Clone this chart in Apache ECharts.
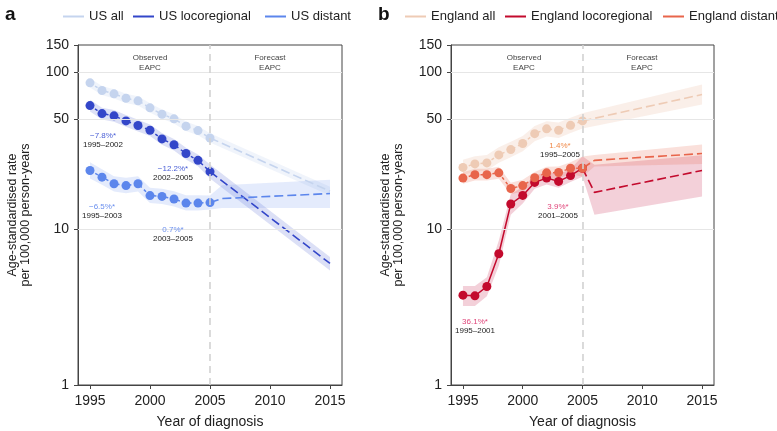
<!DOCTYPE html>
<html><head><meta charset="utf-8">
<script src="https://cdn.jsdelivr.net/npm/echarts@6/dist/echarts.min.js"></script>
<style>html,body{margin:0;padding:0;background:#fff}#c{width:777px;height:431px}</style>
</head><body><div id="c"></div>
<script>
// ---------- data ----------
const years = [1995,1996,1997,1998,1999,2000,2001,2002,2003,2004,2005];
const xTicks = [1995,2000,2005,2010,2015];
const yTicks = [1,10,50,100,150];

// US
const usAll = [85.9,76.7,73.0,68.4,65.9,59.4,54.1,50.5,45.3,42.5,38.1];
const usAllFcYears = [2005,2015];
const usAllFc = [38.1,17.4];
const usAllBandYears = [1995,1996,1997,1998,1999,2000,2001,2002,2003,2004,2005,2015];
const usAllLo = [80.3,71.7,68.2,63.9,61.6,55.5,50.6,47.2,42.3,39.7,35.6,16.3];
const usAllHi = [91.9,82.1,78.1,73.2,70.5,63.6,57.9,54.0,48.5,45.5,40.8,18.6];

const usLoc = [61.4,54.6,52.8,49.0,45.8,42.7,37.6,34.5,30.3,27.4,23.2];
const usLocFcYears = [2005,2015];
const usLocFc = [23.2,6.0];
const usLocBandYears = [1995,1996,1997,1998,1999,2000,2001,2002,2003,2004,2005,2015];
const usLocLo = [56.3,50.1,48.4,45.0,42.0,39.2,34.5,31.7,27.8,25.1,21.0,5.4];
const usLocHi = [66.9,59.5,57.6,53.4,49.9,46.5,41.0,37.6,33.0,29.9,25.8,6.6];

const usDist = [23.6,21.4,19.4,18.9,19.4,16.3,16.1,15.5,14.6,14.6,14.7];
const usDistFcYears = [2005,2006,2015];
const usDistFc = [14.7,15.6,16.8];
const usDistBandYears = [1995,1996,1997,1998,1999,2000,2001,2002,2003,2004,2005,2006,2015];
const usDistLo = [21.0,19.1,17.3,16.9,17.3,14.6,14.4,13.9,13.1,13.1,13.3,13.6,13.6];
const usDistHi = [26.6,24.0,21.7,21.2,21.7,18.3,18.0,17.4,16.4,16.4,16.3,19.0,20.6];

// England
const enAll = [24.7,26.0,26.4,29.7,32.1,35.1,40.6,43.6,42.7,45.9,49.0];
const enAllFcYears = [2005,2015];
const enAllFc = [49.0,72.3];
const enAllBandYears = [1995,1996,1997,1998,1999,2000,2001,2002,2003,2004,2005,2015];
const enAllLo = [22.1,23.2,23.6,26.5,28.7,31.3,36.3,38.9,38.1,41.0,43.8,62.3];
const enAllHi = [27.6,29.1,29.6,33.3,36.0,39.3,45.5,48.8,47.8,51.4,54.9,83.8];

const enLoc = [3.76,3.72,4.27,6.92,14.4,16.35,19.8,21.1,20.1,21.9,24.4];
const enLocFcYears = [2005,2006,2015];
const enLocFc = [24.4,17.1,23.6];
const enLocBandYears = [1995,1996,1997,1998,1999,2000,2001,2002,2003,2004,2005,2006,2015];
const enLocLo = [3.2,3.2,3.7,5.8,12.3,14.5,18.0,19.2,18.3,19.9,21.5,12.3,16.1];
const enLocHi = [4.3,4.3,4.9,8.4,16.6,18.6,21.8,23.2,22.3,24.1,29.1,25.7,29.5];

const enDist = [21.1,22.2,22.2,22.8,18.1,18.9,21.2,22.8,22.9,24.4,24.4];
const enDistFcYears = [2005,2006,2015];
const enDistFc = [24.4,27.4,30.3];
const enDistBandYears = [1995,1996,1997,1998,1999,2000,2001,2002,2003,2004,2005,2006,2015];
const enDistLo = [19.4,20.4,20.4,20.9,16.6,17.3,19.4,20.9,21.0,22.4,21.5,25.0,26.0];
const enDistHi = [23.0,24.2,24.2,24.9,19.7,20.6,23.1,24.9,25.0,26.6,29.0,29.7,34.6];

// ---------- styling ----------
const FONT = '"Liberation Sans", Arial, sans-serif';
const C = {
  usAll:'#c5d4ee', usLoc:'#3346c9', usDist:'#5c86ec',
  enAll:'#eecbb5', enLoc:'#c30a2d', enDist:'#e8654b'
};
const BAND = {
  usAll:'rgba(197,212,238,0.25)', usLoc:'rgba(80,100,210,0.20)', usDist:'rgba(92,134,236,0.17)',
  enAll:'rgba(238,203,181,0.30)', enLoc:'rgba(200,40,80,0.22)', enDist:'rgba(232,101,75,0.20)'
};

const zip = (xs, ys) => xs.map((x,i)=>[x, ys[i]]);

function band(name, idx, xs, lo, hi, color) {
  const data = xs.map((x,i)=>[x, lo[i], hi[i]]);
  return {
    type:'custom', name:name, xAxisIndex:idx, yAxisIndex:idx, z:2, silent:true, clip:true,
    data:data, encode:{x:0, y:[1,2]},
    renderItem:function(params, api){
      if (params.dataIndex !== 0) return null;
      const up = data.map(d=>api.coord([d[0], d[2]]));
      const dn = data.slice().reverse().map(d=>api.coord([d[0], d[1]]));
      return {type:'polygon', shape:{points: up.concat(dn)}, style:{fill:color}};
    }
  };
}
function obs(name, idx, ys, color, dashed) {
  return {
    type:'line', name:name, xAxisIndex:idx, yAxisIndex:idx, z:4,
    data: zip(years, ys), symbol:'circle', symbolSize:9,
    itemStyle:{color:color}, lineStyle:{color:color, width:1.5, type: dashed ? [3,3] : 'solid'},
    emphasis:{disabled:true}
  };
}
function fc(name, idx, xs, ys, color) {
  return {
    type:'line', name:name, xAxisIndex:idx, yAxisIndex:idx, z:3,
    data: zip(xs, ys), symbol:'none',
    lineStyle:{color:color, width:1.6, type:[9,4]}, emphasis:{disabled:true}
  };
}
function guides(idx) {
  return {
    type:'line', xAxisIndex:idx, yAxisIndex:idx, data:[], z:1, silent:true,
    markLine:{
      silent:true, symbol:'none', label:{show:false}, animation:false,
      data:[
        {yAxis:10, lineStyle:{color:'#e6e6e6', width:1, type:'solid'}},
        {yAxis:50, lineStyle:{color:'#e6e6e6', width:1, type:'solid'}},
        {yAxis:100, lineStyle:{color:'#e6e6e6', width:1, type:'solid'}},
        {xAxis:2005, lineStyle:{color:'#d2d2d2', width:1.6, type:[7,5]}}
      ]
    }
  };
}

function xAxis(idx) {
  return {
    type:'value', gridIndex:idx, min:1994, max:2016,
    name:'Year of diagnosis', nameLocation:'middle', nameGap:30,
    nameTextStyle:{fontFamily:FONT, fontSize:14, color:'#222'},
    axisLine:{lineStyle:{color:'#444', width:1}},
    axisTick:{show:true, length:4, customValues:xTicks, lineStyle:{color:'#444'}},
    axisLabel:{customValues:xTicks, formatter:v=>String(v), fontFamily:FONT, fontSize:14, color:'#222', margin:9},
    splitLine:{show:false}
  };
}
function yAxis(idx) {
  return {
    type:'log', logBase:10, gridIndex:idx, min:1, max:150,
    name:'Age-standardised rate\nper 100,000 person-years', nameLocation:'middle', nameGap:46,
    nameTextStyle:{fontFamily:FONT, fontSize:12.5, color:'#222', lineHeight:13},
    axisLine:{lineStyle:{color:'#444', width:1}},
    axisTick:{show:true, length:4, customValues:yTicks, lineStyle:{color:'#444'}},
    axisLabel:{customValues:yTicks, formatter:v=>String(v), fontFamily:FONT, fontSize:14, color:'#222', margin:9},
    splitLine:{show:false}
  };
}
function leg(left, name) {
  return {left:left, top:5, itemWidth:21, itemHeight:2, icon:'rect', selectedMode:false,
    textStyle:{fontFamily:FONT, fontSize:13, color:'#222', padding:[0,0,0,0]}, itemGap:5,
    data:[name]};
}
function t(x, y, text, color) {
  return {type:'text', x:x, y:y, z:10, style:{text:text, fill:color, font:'8px '+FONT, align:'center', lineHeight:10}};
}

const chart = echarts.init(document.getElementById('c'), null, {renderer:'canvas'});
chart.setOption({
  animation:false,
  backgroundColor:'#fff',
  grid:[
    {left:78, top:45, width:264, height:340, show:true, borderColor:'#444', borderWidth:1, backgroundColor:'transparent', containLabel:false, outerBoundsMode:'none'},
    {left:451, top:45, width:263, height:340, show:true, borderColor:'#444', borderWidth:1, backgroundColor:'transparent', containLabel:false, outerBoundsMode:'none'}
  ],
  xAxis:[xAxis(0), xAxis(1)],
  yAxis:[yAxis(0), yAxis(1)],
  legend:[
    leg(58,'US all'), leg(128,'US locoregional'), leg(260,'US distant'),
    leg(400,'England all'), leg(500,'England locoregional'), leg(658,'England distant')
  ],
  title:[
    {text:'a', left:0, top:0, textStyle:{fontFamily:FONT, fontSize:19, fontWeight:'bold', color:'#111'}},
    {text:'b', left:373, top:0, textStyle:{fontFamily:FONT, fontSize:19, fontWeight:'bold', color:'#111'}}
  ],
  graphic:[
    t(150,53,'Observed\nEAPC','#444'), t(270,53,'Forecast\nEAPC','#444'),
    t(103,131,'\u22127.8%*','#4a5fd6'), t(103,140,'1995\u20132002','#222'),
    t(173,164,'\u221212.2%*','#4a5fd6'), t(173,173,'2002\u20132005','#222'),
    t(102,202,'\u22126.5%*','#6a8fee'), t(102,211,'1995\u20132003','#222'),
    t(173,225,'0.7%*','#6a8fee'), t(173,234,'2003\u20132005','#222'),
    t(524,53,'Observed\nEAPC','#444'), t(642,53,'Forecast\nEAPC','#444'),
    t(560,141,'1.4%*','#f08a4a'), t(560,150,'1995\u20132005','#222'),
    t(558,202,'3.9%*','#e0457a'), t(558,211,'2001\u20132005','#222'),
    t(475,317,'36.1%*','#e0457a'), t(475,326,'1995\u20132001','#222')
  ],
  series:[
    guides(0), guides(1),
    band('bUSall',0,usAllBandYears,usAllLo,usAllHi,BAND.usAll),
    band('bUSloc',0,usLocBandYears,usLocLo,usLocHi,BAND.usLoc),
    band('bUSdist',0,usDistBandYears,usDistLo,usDistHi,BAND.usDist),
    obs('US all',0,usAll,C.usAll,true),
    obs('US locoregional',0,usLoc,C.usLoc,true),
    obs('US distant',0,usDist,C.usDist,true),
    fc('US all',0,usAllFcYears,usAllFc,C.usAll),
    fc('US locoregional',0,usLocFcYears,usLocFc,C.usLoc),
    fc('US distant',0,usDistFcYears,usDistFc,C.usDist),

    band('bENall',1,enAllBandYears,enAllLo,enAllHi,BAND.enAll),
    band('bENloc',1,enLocBandYears,enLocLo,enLocHi,BAND.enLoc),
    band('bENdist',1,enDistBandYears,enDistLo,enDistHi,BAND.enDist),
    obs('England all',1,enAll,C.enAll,true),
    obs('England locoregional',1,enLoc,C.enLoc,false),
    obs('England distant',1,enDist,C.enDist,true),
    fc('England all',1,enAllFcYears,enAllFc,C.enAll),
    fc('England locoregional',1,enLocFcYears,enLocFc,C.enLoc),
    fc('England distant',1,enDistFcYears,enDistFc,C.enDist)
  ]
});
</script></body></html>
